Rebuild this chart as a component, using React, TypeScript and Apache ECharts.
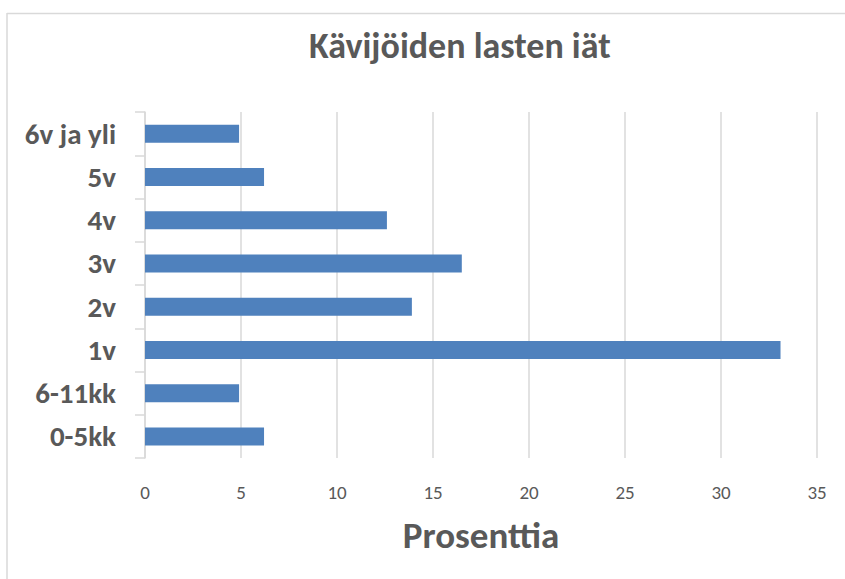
import React, { useEffect, useRef } from "react";
import * as echarts from "echarts";

const categories = ["0-5kk", "6-11kk", "1v", "2v", "3v", "4v", "5v", "6v ja yli"];
const values = [6.2, 4.9, 33.1, 13.9, 16.5, 12.6, 6.2, 4.9];
const titleText = "Kävijöiden lasten iät";
const axisName = "Prosenttia";

const FONT = 'Carlito, Calibri, "Open Sans", sans-serif';

export default function App() {
  const ref = useRef<HTMLDivElement>(null);
  useEffect(() => {
    document.body.style.margin = "0";
    const chart = echarts.init(ref.current!, null, { renderer: "svg" });
    chart.setOption({
      animation: false,
      backgroundColor: "#ffffff",
      title: {
        text: titleText,
        left: 304,
        top: 23,
        textStyle: { fontFamily: FONT, fontSize: 36, fontWeight: "bold", color: "#595959" },
      },
      graphic: [
        { type: "line", shape: { x1: 7, y1: 13.5, x2: 845, y2: 13.5 }, style: { stroke: "#d9d9d9", lineWidth: 1.5 } },
        { type: "line", shape: { x1: 7, y1: 13, x2: 7, y2: 579 }, style: { stroke: "#d9d9d9", lineWidth: 1.5 } },
      ],
      grid: { left: 145, right: 28, top: 112, bottom: 121, containLabel: false },
      xAxis: {
        type: "value",
        min: 0,
        max: 35,
        interval: 5,
        axisLine: { show: false },
        axisTick: { show: false },
        splitLine: { show: true, lineStyle: { color: "#d9d9d9", width: 1.5 } },
        axisLabel: { fontFamily: FONT, fontSize: 19, color: "#595959", margin: 25 },
        name: axisName,
        nameLocation: "middle",
        nameGap: 59,
        nameTextStyle: { fontFamily: FONT, fontSize: 37, fontWeight: "bold", color: "#595959" },
      },
      yAxis: {
        type: "category",
        data: categories,
        axisLine: { show: true, lineStyle: { color: "#d9d9d9", width: 1.5 } },
        axisTick: { show: true, length: 10, lineStyle: { color: "#d9d9d9", width: 1.5 } },
        axisLabel: { fontFamily: FONT, fontSize: 29, fontWeight: "bold", color: "#595959", margin: 29 },
      },
      series: [
        {
          type: "bar",
          data: values,
          barWidth: 18,
          itemStyle: { color: "#4f81bd" },
        },
      ],
    });
    return () => chart.dispose();
  }, []);
  return <div ref={ref} style={{ width: 845, height: 579 }} />;
}
